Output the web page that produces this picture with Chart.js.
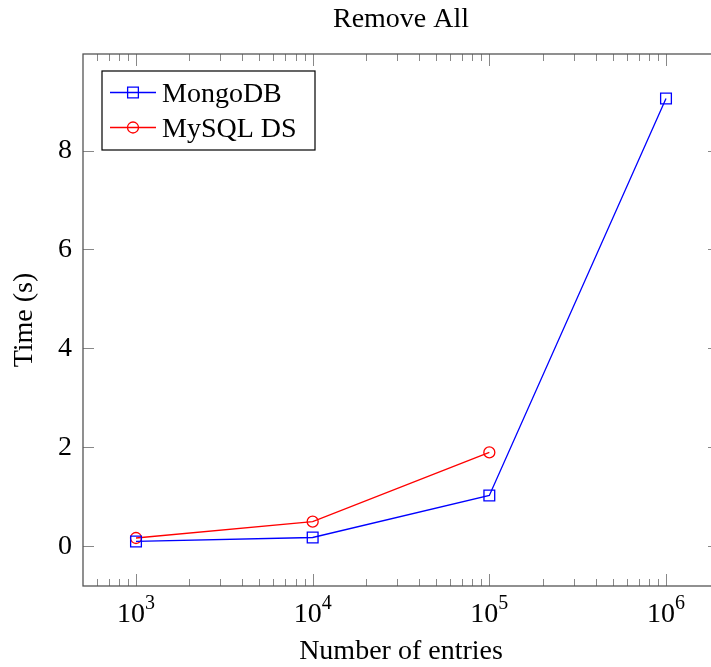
<!DOCTYPE html>
<html>
<head>
<meta charset="utf-8">
<script src="https://cdn.jsdelivr.net/npm/chart.js@4/dist/chart.umd.min.js"></script>
<style>
  html, body { margin: 0; padding: 0; background: #fff; overflow: hidden; }
</style>
</head>
<body>
<canvas id="removeAllChart" width="730" height="667"></canvas>
<script>
const titleText = "Remove All";
const entries = [1000, 10000, 100000, 1000000];
const mongoTimes = [0.10, 0.18, 1.03, 9.05];
const mysqlTimes = [0.17, 0.50, 1.90];
const xTicks = [1e3, 1e4, 1e5, 1e6];
const xTickExp = ["3", "4", "5", "6"];
const yTicks = [0, 2, 4, 6, 8];

const serif = "'Liberation Serif', 'DejaVu Serif', serif";
Chart.defaults.font.family = serif;
Chart.defaults.color = "#000";

// frame, inward ticks, x labels, title and legend drawn pgfplots-style
const pgfFrame = {
    id: "pgfFrame",
    afterDraw(chart) {
        const { ctx, chartArea: a, scales } = chart;
        const x = scales.x, y = scales.y;
        ctx.save();

        ctx.strokeStyle = "#888";
        ctx.lineWidth = 1;
        ctx.beginPath();
        for (let k = 2; k <= 6; k++) {
            for (let m = 1; m <= 9; m++) {
                const v = m * Math.pow(10, k);
                if (v < x.min || v > x.max) continue;
                const px = Math.round(x.getPixelForValue(v)) + 0.5;
                const len = m === 1 ? 12 : 7;
                ctx.moveTo(px, a.bottom); ctx.lineTo(px, a.bottom - len);
                ctx.moveTo(px, a.top); ctx.lineTo(px, a.top + len);
            }
        }
        yTicks.forEach(v => {
            const py = Math.round(y.getPixelForValue(v)) + 0.5;
            ctx.moveTo(a.left, py); ctx.lineTo(a.left + 11, py);
            ctx.moveTo(a.right, py); ctx.lineTo(a.right - 11, py);
        });
        ctx.stroke();

        ctx.strokeStyle = "#555";
        ctx.lineWidth = 1.3;
        ctx.strokeRect(a.left, a.top, a.right - a.left, a.bottom - a.top);

        // x tick labels 10^n
        ctx.fillStyle = "#000";
        ctx.textBaseline = "alphabetic";
        xTicks.forEach((v, i) => {
            const px = x.getPixelForValue(v);
            ctx.font = "28px " + serif;
            const wBase = ctx.measureText("10").width;
            ctx.font = "20px " + serif;
            const wExp = ctx.measureText(xTickExp[i]).width;
            const start = px - (wBase + wExp) / 2;
            ctx.textAlign = "left";
            ctx.font = "28px " + serif;
            ctx.fillText("10", start, 622);
            ctx.font = "20px " + serif;
            ctx.fillText(xTickExp[i], start + wBase, 609);
        });

        // title
        ctx.font = "28px " + serif;
        ctx.textAlign = "center";
        ctx.fillText(titleText, (a.left + a.right) / 2, 27);

        // legend
        const lx = a.left + 19, ly = a.top + 17;
        ctx.fillStyle = "#fff";
        ctx.fillRect(lx, ly, 213, 79);
        ctx.strokeStyle = "#000";
        ctx.lineWidth = 1.2;
        ctx.strokeRect(lx, ly, 213, 79);
        chart.data.datasets.forEach((ds, i) => {
            const ry = ly + 21.5 + i * 35;
            ctx.strokeStyle = ds.borderColor;
            ctx.lineWidth = 1.3;
            ctx.beginPath();
            ctx.moveTo(lx + 8, ry); ctx.lineTo(lx + 54, ry);
            ctx.stroke();
            ctx.fillStyle = "rgba(0,0,0,0)";
            Chart.helpers.drawPoint(ctx, {
                pointStyle: ds.pointStyle,
                radius: ds.pointRadius,
                borderWidth: 1.3
            }, lx + 31, ry);
            ctx.fillStyle = "#000";
            ctx.textAlign = "left";
            ctx.font = "28px " + serif;
            ctx.fillText(ds.label, lx + 60, ry + 9);
        });
        ctx.restore();
    }
};

new Chart(document.getElementById("removeAllChart"), {
    type: "line",
    data: {
        datasets: [
            {
                label: "MongoDB",
                data: entries.map((n, i) => ({ x: n, y: mongoTimes[i] })),
                borderColor: "#0000ff",
                backgroundColor: "transparent",
                borderWidth: 1.3,
                pointStyle: "rect",
                pointRadius: 7.6,
                pointBorderWidth: 1.3,
                pointBackgroundColor: "transparent",
                tension: 0,
            },
            {
                label: "MySQL DS",
                data: mysqlTimes.map((t, i) => ({ x: entries[i], y: t })),
                borderColor: "#ff0000",
                backgroundColor: "transparent",
                borderWidth: 1.3,
                pointStyle: "circle",
                pointRadius: 5.5,
                pointBorderWidth: 1.3,
                pointBackgroundColor: "transparent",
                tension: 0,
            },
        ],
    },
    options: {
        responsive: false,
        animation: false,
        layout: { padding: { left: 0, right: 11, top: 54, bottom: 0 } },
        plugins: {
            legend: { display: false },
            title: { display: false },
            tooltip: { enabled: false },
        },
        scales: {
            x: {
                type: "logarithmic",
                min: 501.19,
                max: 1995262,
                grid: { display: false },
                border: { display: false },
                ticks: { display: false },
                afterBuildTicks: s => { s.ticks = xTicks.map(v => ({ value: v })); },
                afterFit: s => { s.height = 81; },
                title: {
                    display: true,
                    text: "Number of entries",
                    font: { size: 28, lineHeight: 1.1 },
                    padding: { top: 0, bottom: 0 },
                },
            },
            y: {
                min: -0.8,
                max: 9.95,
                grid: { display: false, drawTicks: false },
                border: { display: false },
                ticks: { font: { size: 28 }, padding: 11 },
                afterBuildTicks: s => { s.ticks = yTicks.map(v => ({ value: v })); },
                afterFit: s => { s.width = 83; },
                title: {
                    display: true,
                    text: "Time (s)",
                    font: { size: 28, lineHeight: 1.1 },
                    padding: { top: 9, bottom: 0 },
                },
            },
        },
    },
    plugins: [pgfFrame],
});
</script>
</body>
</html>
